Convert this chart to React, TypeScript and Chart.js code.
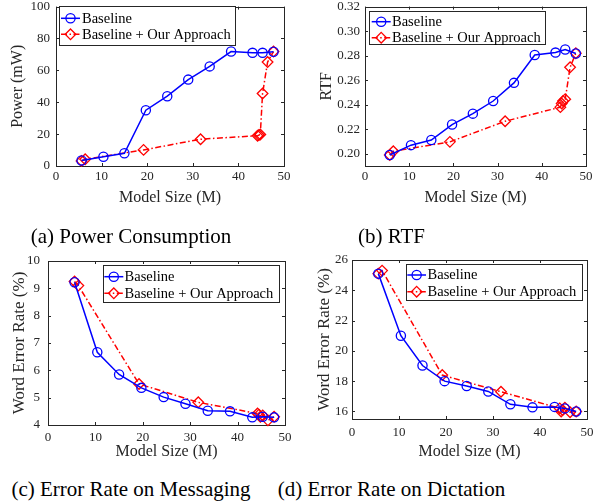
import React, { useEffect, useRef } from 'react';
import { Chart, registerables } from 'chart.js';

Chart.register(...registerables);

const FONT = '"Liberation Serif", "Times New Roman", Times, serif';
const AX = '#262626';

// ---- data ----
const seriesNames = ['Baseline', 'Baseline + Our Approach'];
const xTicks = [0, 10, 20, 30, 40, 50];

const sizeBase = [5.6, 10.4, 15.0, 19.7, 24.4, 29.0, 33.7, 38.4, 43.1, 45.3, 47.7];
const sizeOurs = [5.6, 6.4, 19.2, 31.7, 44.2, 44.5, 44.8, 45.3, 46.4, 47.7];

const powerBase = [3.5, 5.8, 8.0, 35.0, 43.8, 54.2, 62.5, 71.8, 71.0, 71.0, 71.7];
const powerOurs = [3.2, 4.2, 10.1, 16.8, 19.0, 19.4, 19.8, 45.5, 65.2, 71.8];
const powerTicks = [0, 20, 40, 60, 80, 100];

const rtfBase = [0.199, 0.207, 0.2112, 0.2238, 0.2327, 0.243, 0.2578, 0.2805, 0.2825, 0.285, 0.2818];
const rtfOurs = [0.199, 0.202, 0.2097, 0.2265, 0.238, 0.241, 0.243, 0.2445, 0.2705, 0.282];
const rtfTicks = [0.2, 0.22, 0.24, 0.26, 0.28, 0.3, 0.32];

const msgBase = [9.22, 6.66, 5.85, 5.36, 5.02, 4.78, 4.52, 4.5, 4.28, 4.3, 4.28];
const msgOurs = [9.25, 9.1, 5.5, 4.83, 4.42, 4.38, 4.3, 4.35, 4.17, 4.3];
const msgTicks = [4, 5, 6, 7, 8, 9, 10];

const dicBase = [25.1, 21.0, 19.03, 18.0, 17.68, 17.32, 16.47, 16.27, 16.3, 16.2, 16.0];
const dicOurs = [25.1, 25.3, 18.4, 17.3, 16.2, 16.0, 16.1, 16.25, 15.95, 16.0];
const dicTicks = [16, 18, 20, 22, 24, 26];

const captions = ['(a) Power Consumption', '(b) RTF', '(c) Error Rate on Messaging', '(d) Error Rate on Dictation'];

type Legend = { x: number; y: number; w: number; h: number; rows: number[]; s1: number; s2: number; tx: number };
type Panel = {
  left: number; top: number; width: number; height: number;
  yTitle: string; yTitleSize: number; yMin: number; yMax: number; yTicks: number[]; dec: number;
  base: number[]; ours: number[];
  yAxisW: number; xAxisH: number; padTop: number; padRight: number;
  yTickPad: number; yTitlePad: number; xTickPad: number; xTitlePad: number;
  legend: Legend;
};

const panels: Panel[] = [
  {
    left: 0, top: 0, width: 300, height: 210,
    yTitle: 'Power (mW)', yTitleSize: 16, yMin: 0, yMax: 100, yTicks: powerTicks, dec: 0,
    base: powerBase, ours: powerOurs,
    yAxisW: 56, xAxisH: 44, padTop: 6, padRight: 16,
    yTickPad: 6, yTitlePad: 8, xTickPad: 3, xTitlePad: 2.5,
    legend: { x: 59, y: 6, w: 176, h: 39, rows: [18.3, 34.3], s1: 61, s2: 80, tx: 82 },
  },
  {
    left: 300, top: 0, width: 305, height: 210,
    yTitle: 'RTF', yTitleSize: 16, yMin: 0.19, yMax: 0.32, yTicks: rtfTicks, dec: 2,
    base: rtfBase, ours: rtfOurs,
    yAxisW: 65, xAxisH: 44, padTop: 6, padRight: 19,
    yTickPad: 5, yTitlePad: 17, xTickPad: 3, xTitlePad: 2.5,
    legend: { x: 69, y: 11, w: 176, h: 33.3, rows: [21.7, 37.7], s1: 71.7, s2: 90.7, tx: 92 },
  },
  {
    left: 0, top: 245, width: 300, height: 220,
    yTitle: 'Word Error Rate (%)', yTitleSize: 17, yMin: 4, yMax: 10, yTicks: msgTicks, dec: 0,
    base: msgBase, ours: msgOurs,
    yAxisW: 48, xAxisH: 40, padTop: 16, padRight: 15,
    yTickPad: 8, yTitlePad: 9.5, xTickPad: 5, xTitlePad: 3.7,
    legend: { x: 102.7, y: 20, w: 175.6, h: 37.3, rows: [31.7, 48.3], s1: 104.3, s2: 123.3, tx: 124.6 },
  },
  {
    left: 300, top: 245, width: 305, height: 220,
    yTitle: 'Word Error Rate (%)', yTitleSize: 17, yMin: 15.5, yMax: 26, yTicks: dicTicks, dec: 0,
    base: dicBase, ours: dicOurs,
    yAxisW: 52, xAxisH: 46, padTop: 15, padRight: 18,
    yTickPad: 4, yTitlePad: 14, xTickPad: 6, xTitlePad: 3.4,
    legend: { x: 106, y: 19, w: 175.7, h: 36, rows: [30, 46.7], s1: 107.3, s2: 126, tx: 127.6 },
  },
];

const RED_DASH = [6, 2.5, 1.5, 2.5];

const framePlugin = {
  id: 'frame',
  beforeDatasetsDraw(chart: any) {
    const { ctx, chartArea: a } = chart;
    const xs = chart.scales.x;
    const ys = chart.scales.y;
    const tl = 3;
    ctx.save();
    ctx.strokeStyle = AX;
    ctx.lineWidth = 1;
    ctx.strokeRect(Math.round(a.left) + 0.5, Math.round(a.top) + 0.5, Math.round(a.right - a.left), Math.round(a.bottom - a.top));
    ctx.beginPath();
    xs.ticks.forEach((t: any) => {
      const px = Math.round(xs.getPixelForValue(t.value)) + 0.5;
      ctx.moveTo(px, a.bottom); ctx.lineTo(px, a.bottom - tl);
      ctx.moveTo(px, a.top); ctx.lineTo(px, a.top + tl);
    });
    ys.ticks.forEach((t: any) => {
      const py = Math.round(ys.getPixelForValue(t.value)) + 0.5;
      ctx.moveTo(a.left, py); ctx.lineTo(a.left + tl, py);
      ctx.moveTo(a.right, py); ctx.lineTo(a.right - tl, py);
    });
    ctx.stroke();
    ctx.restore();
  },
};

function drawMarker(ctx: CanvasRenderingContext2D, style: string, x: number, y: number, r: number) {
  ctx.beginPath();
  if (style === 'circle') {
    ctx.arc(x, y, r, 0, Math.PI * 2);
  } else {
    ctx.moveTo(x, y - r); ctx.lineTo(x + r, y); ctx.lineTo(x, y + r); ctx.lineTo(x - r, y); ctx.closePath();
  }
  ctx.stroke();
}

const legendPlugin = {
  id: 'boxLegend',
  afterDraw(chart: any) {
    const L: Legend = chart.options.plugins.boxLegend;
    if (!L) return;
    const { ctx } = chart;
    ctx.save();
    ctx.fillStyle = '#ffffff';
    ctx.fillRect(L.x, L.y, L.w, L.h);
    ctx.strokeStyle = AX;
    ctx.lineWidth = 1;
    ctx.strokeRect(Math.round(L.x) + 0.5, Math.round(L.y) + 0.5, Math.round(L.w), Math.round(L.h));
    chart.data.datasets.forEach((ds: any, i: number) => {
      const y = L.rows[i];
      ctx.strokeStyle = ds.borderColor;
      ctx.lineWidth = ds.borderWidth;
      ctx.setLineDash(ds.borderDash || []);
      ctx.beginPath();
      ctx.moveTo(L.s1, y); ctx.lineTo(L.s2, y);
      ctx.stroke();
      ctx.setLineDash([]);
      ctx.lineWidth = ds.pointBorderWidth;
      drawMarker(ctx, ds.pointStyle, (L.s1 + L.s2) / 2, y, ds.pointRadius);
      ctx.fillStyle = '#000000';
      ctx.font = `14.5px ${FONT}`;
      ctx.textBaseline = 'middle';
      ctx.textAlign = 'left';
      ctx.fillText(ds.label, L.tx, y + 0.5);
    });
    ctx.restore();
  },
};

function ChartPanel({ p }: { p: Panel }) {
  const ref = useRef<HTMLCanvasElement>(null);
  useEffect(() => {
    if (!ref.current) return;
    const chart = new Chart(ref.current, {
      type: 'line',
      data: {
        datasets: [
          {
            label: seriesNames[0],
            data: sizeBase.map((x, i) => ({ x, y: p.base[i] })),
            borderColor: '#0000ff',
            borderWidth: 1.5,
            pointStyle: 'circle',
            pointRadius: 4.6,
            pointBorderWidth: 1.3,
            pointBackgroundColor: 'rgba(0,0,0,0)',
            pointBorderColor: '#0000ff',
            tension: 0,
            clip: false as any,
          },
          {
            label: seriesNames[1],
            data: sizeOurs.map((x, i) => ({ x, y: p.ours[i] })),
            borderColor: '#ff0000',
            borderWidth: 1.5,
            borderDash: RED_DASH,
            pointStyle: 'rectRot',
            pointRadius: 5.3,
            pointBorderWidth: 1.3,
            pointBackgroundColor: 'rgba(0,0,0,0)',
            pointBorderColor: '#ff0000',
            tension: 0,
            clip: false as any,
          },
        ],
      },
      options: {
        responsive: false,
        animation: false,
        events: [],
        layout: { padding: { top: p.padTop, right: p.padRight, left: 0, bottom: 0 } },
        plugins: {
          legend: { display: false },
          tooltip: { enabled: false },
          boxLegend: p.legend,
        } as any,
        scales: {
          x: {
            type: 'linear',
            min: 0,
            max: 50,
            grid: { display: false, drawTicks: false },
            border: { display: false },
            afterBuildTicks: (s: any) => { s.ticks = xTicks.map((v) => ({ value: v })); },
            afterFit: (s: any) => {
              s.height = p.xAxisH;
              s.paddingLeft = 0; s.paddingRight = 0; s.paddingTop = 0; s.paddingBottom = 0;
            },
            ticks: {
              padding: p.xTickPad,
              color: AX,
              font: { family: FONT, size: 13 },
              maxRotation: 0,
              callback: (v: any) => String(v),
            },
            title: {
              display: true,
              text: 'Model Size (M)',
              color: AX,
              font: { family: FONT, size: 16 },
              padding: { top: 0, bottom: p.xTitlePad },
            },
          },
          y: {
            type: 'linear',
            min: p.yMin,
            max: p.yMax,
            grid: { display: false, drawTicks: false },
            border: { display: false },
            afterBuildTicks: (s: any) => { s.ticks = p.yTicks.map((v) => ({ value: v })); },
            afterFit: (s: any) => {
              s.width = p.yAxisW;
              s.paddingLeft = 0; s.paddingRight = 0; s.paddingTop = 0; s.paddingBottom = 0;
            },
            ticks: {
              padding: p.yTickPad,
              color: AX,
              font: { family: FONT, size: 13 },
              callback: (v: any) => Number(v).toFixed(p.dec),
            },
            title: {
              display: true,
              text: p.yTitle,
              color: AX,
              font: { family: FONT, size: p.yTitleSize },
              padding: { top: p.yTitlePad, bottom: 0 },
            },
          },
        },
      } as any,
      plugins: [framePlugin, legendPlugin],
    });
    return () => chart.destroy();
  }, [p]);
  return (
    <canvas
      ref={ref}
      width={p.width}
      height={p.height}
      style={{ position: 'absolute', left: p.left, top: p.top, width: p.width, height: p.height }}
    />
  );
}

const captionPos = [
  { cx: 131, cy: 235.5 },
  { cx: 391.5, cy: 235.5 },
  { cx: 131, cy: 488.5 },
  { cx: 391.5, cy: 488.5 },
];

export default function App() {
  return (
    <div style={{ position: 'fixed', left: 0, top: 0, width: 605, height: 504, background: '#ffffff', overflow: 'hidden' }}>
      {panels.map((p, i) => (
        <ChartPanel key={i} p={p} />
      ))}
      {captions.map((c, i) => (
        <div
          key={'c' + i}
          style={{
            position: 'absolute',
            left: captionPos[i].cx - 150,
            width: 300,
            top: captionPos[i].cy - 12,
            height: 24,
            lineHeight: '24px',
            textAlign: 'center',
            fontFamily: FONT,
            fontSize: 21,
            color: '#000',
            whiteSpace: 'nowrap',
          }}
        >
          {c}
        </div>
      ))}
    </div>
  );
}
